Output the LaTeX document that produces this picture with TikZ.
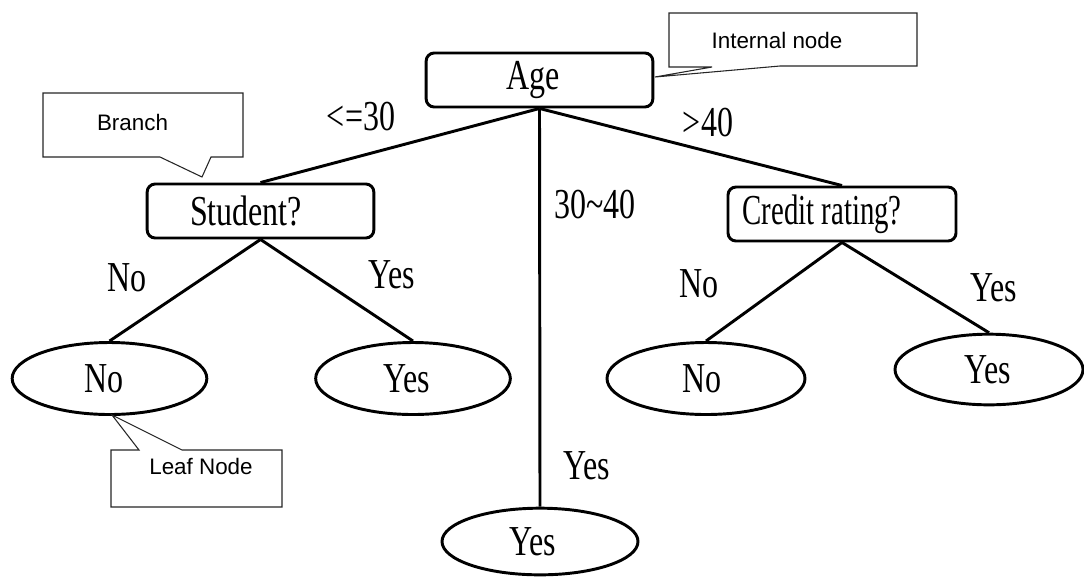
\documentclass[tikz,border=0pt]{standalone}
\usepackage{fontspec}
\setmainfont{Liberation Serif}
\newfontfamily\treefont[FakeStretch=0.75]{Liberation Serif}
\newfontfamily\notefont{Liberation Sans}
\usetikzlibrary{shapes.geometric}
% text set a little left of the shape's centre (shift given in px)
\newcommand{\leftset}[2]{\makebox[0pt][c]{#2\hspace*{#1\dimexpr1.5pt\relax}}}
\begin{document}
\begin{tikzpicture}[x=0.75pt,y=-0.75pt,
  every node/.style={inner sep=0pt},
  treetext/.style={font=\treefont\fontsize{32}{36}\selectfont},
  testbox/.style={treetext,draw,line width=2.2pt,rounded corners=6pt,minimum height=40.5pt},
  leaf/.style={treetext,draw,ellipse,line width=2.2pt,minimum width=146pt,minimum height=54pt},
  edge/.style={line width=2.2pt},
  note/.style={draw=black!85,line width=0.8pt,fill=white},
  notetext/.style={font=\notefont\fontsize{16.8}{19}\selectfont}
]
\useasboundingbox (0,0) rectangle (1084,576);

% decision nodes
\node[testbox,minimum width=170pt] (age) at (539.5,80) {\leftset{6.5}{Age}};
\node[testbox,minimum width=170pt] (student) at (260.5,211) {\leftset{14.5}{Student?}};
\node[testbox,minimum width=171pt] (credit) at (842,214) {\leftset{20}{\scalebox{0.9}[1]{Credit rating?}}};

% leaves
\node[leaf] (sno) at (109.5,378.5) {\leftset{5.5}{No}};
\node[leaf] (syes) at (413,378.5) {\leftset{6}{Yes}};
\node[leaf,minimum width=147pt,minimum height=50pt] (myes) at (540,541.5) {\leftset{7}{Yes}};
\node[leaf,minimum width=148.5pt] (cno) at (706,378.5) {\leftset{4}{No}};
\node[leaf,minimum width=141pt,minimum height=53pt] (cyes) at (989,369.5) {\leftset{1}{Yes}};

% branches
\draw[edge] (age.south) -- (student.north);
\draw[edge] (age.south) -- (myes.north);
\draw[edge] (age.south) -- (credit.north);
\draw[edge] (student.south) -- (sno.north);
\draw[edge] (student.south) -- (syes.north);
\draw[edge] (credit.south) -- (cno.north);
\draw[edge] (credit.south) -- (cyes.north);

% branch labels
\node[treetext] (lle30) at (361,117) {<=30};
\node[treetext] (lmid) at (595,205) {30\char`\~40};
\node[treetext] (lgt40) at (708,123) {>40};
\node[treetext] (lsno) at (127,278) {No};
\node[treetext] (lsyes) at (392,275) {Yes};
\node[treetext] (lmyes) at (587,466) {Yes};
\node[treetext] (lcno) at (699,284) {No};
\node[treetext] (lcyes) at (994,288) {Yes};

% callouts
\draw[note] (669,13) -- (917,13) -- (917,66) -- (780,66) -- (655,77) -- (712,67) -- (669,67) -- cycle;
\node[notetext] (tinternal) at (777,40) {Internal node};

\draw[note] (43,93) -- (243,93) -- (243,157) -- (211,157) -- (202,177) -- (160,157) -- (43,157) -- cycle;
\node[notetext] (tbranch) at (132.5,122) {Branch};

\draw[note] (111,450) -- (139,450) -- (112,415) -- (182,450) -- (282,450) -- (282,507) -- (111,507) -- cycle;
\node[notetext] (tleaf) at (201,466) {Leaf Node};
\end{tikzpicture}
\end{document}
